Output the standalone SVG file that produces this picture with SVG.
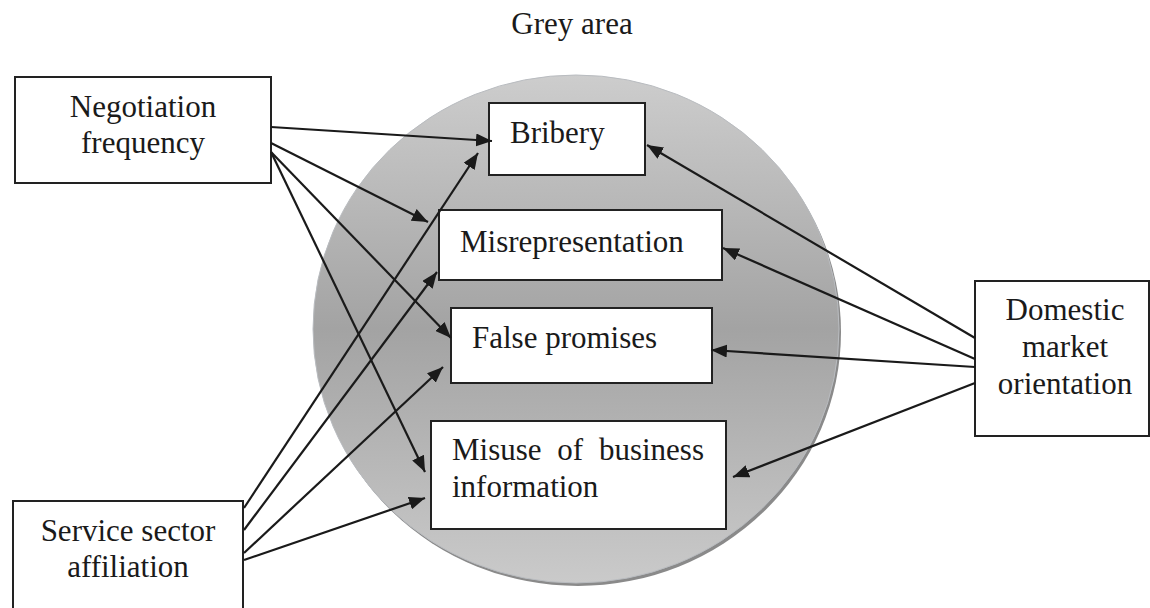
<svg xmlns="http://www.w3.org/2000/svg" width="1150" height="608" viewBox="0 0 1150 608">
  <defs>
    <linearGradient id="gArea" x1="0" y1="0" x2="0" y2="1">
      <stop offset="0" stop-color="#cdcdcd"/>
      <stop offset="0.5" stop-color="#a3a3a3"/>
      <stop offset="1" stop-color="#cacaca"/>
    </linearGradient>
    <marker id="arr" markerUnits="userSpaceOnUse" markerWidth="17" markerHeight="13" refX="16" refY="6.5" orient="auto">
      <path d="M0,0 L16,6.5 L0,13 z" fill="#1a1a1a"/>
    </marker>
    <style>
      .box { fill: #ffffff; stroke: #222222; stroke-width: 2; }
      .lbl { font-family: "Liberation Serif", "Times New Roman", serif; font-size: 31px; fill: #1a1a1a; }
      .c { text-anchor: middle; }
      .con { stroke: #1a1a1a; stroke-width: 2.2; fill: none; marker-end: url(#arr); }
    </style>
  </defs>
  <rect x="0" y="0" width="1150" height="608" fill="#ffffff"/>

  <g id="grey-area">
    <ellipse cx="578" cy="332" rx="263" ry="254" fill="#8a8a8a"/>
    <ellipse cx="576" cy="329" rx="263" ry="254" fill="url(#gArea)" stroke="#b9bcc0" stroke-width="1"/>
    <text class="lbl c" x="572" y="34">Grey area</text>
  </g>

  <g id="negotiation-frequency">
    <rect class="box" x="15" y="77" width="256" height="106"/>
    <text class="lbl c" x="143" y="117">Negotiation</text>
    <text class="lbl c" x="143" y="153">frequency</text>
  </g>

  <g id="service-sector-affiliation">
    <rect class="box" x="13" y="501" width="230" height="130"/>
    <text class="lbl c" x="128" y="541">Service sector</text>
    <text class="lbl c" x="128" y="577">affiliation</text>
  </g>

  <g id="domestic-market-orientation">
    <rect class="box" x="975" y="281" width="174" height="155"/>
    <text class="lbl c" x="1065" y="320">Domestic</text>
    <text class="lbl c" x="1065" y="357">market</text>
    <text class="lbl c" x="1065" y="394">orientation</text>
  </g>

  <g id="bribery">
    <rect class="box" x="489" y="103" width="156" height="72"/>
    <text class="lbl" x="510" y="143">Bribery</text>
  </g>

  <g id="misrepresentation">
    <rect class="box" x="439" y="210" width="283" height="70"/>
    <text class="lbl" x="460" y="252">Misrepresentation</text>
  </g>

  <g id="false-promises">
    <rect class="box" x="451" y="308" width="261" height="75"/>
    <text class="lbl" x="472" y="348">False promises</text>
  </g>

  <g id="misuse-of-business-information">
    <rect class="box" x="431" y="421" width="295" height="108"/>
    <text class="lbl" x="452" y="460" word-spacing="8">Misuse of business</text>
    <text class="lbl" x="452" y="497">information</text>
  </g>

  <g id="connectors">
    <line class="con" x1="271" y1="127" x2="492" y2="141"/>
    <line class="con" x1="271" y1="143" x2="428" y2="222"/>
    <line class="con" x1="271" y1="152" x2="451" y2="338"/>
    <line class="con" x1="271" y1="152" x2="425" y2="472"/>

    <line class="con" x1="244" y1="508" x2="478" y2="153"/>
    <line class="con" x1="244" y1="530" x2="437" y2="272"/>
    <line class="con" x1="244" y1="553" x2="443" y2="367"/>
    <line class="con" x1="244" y1="560" x2="425" y2="498"/>

    <line class="con" x1="975" y1="338" x2="647" y2="145"/>
    <line class="con" x1="975" y1="359" x2="723" y2="248"/>
    <line class="con" x1="975" y1="367" x2="711" y2="350"/>
    <line class="con" x1="975" y1="383" x2="733" y2="477"/>
  </g>
</svg>
